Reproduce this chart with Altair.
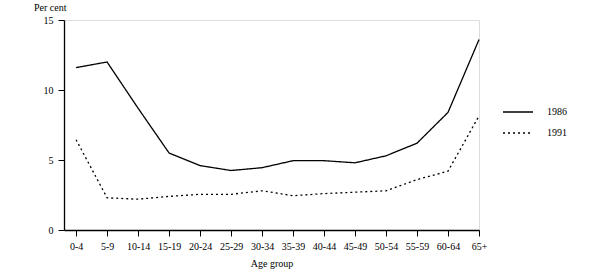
import altair as alt
import pandas as pd

ages = ["0-4", "5-9", "10-14", "15-19", "20-24", "25-29", "30-34", "35-39",
        "40-44", "45-49", "50-54", "55-59", "60-64", "65+"]
v1986 = [11.6, 12.0, 8.7, 5.5, 4.6, 4.25, 4.45, 4.95, 4.95, 4.8, 5.3, 6.2, 8.4, 13.6]
v1991 = [6.45, 2.3, 2.2, 2.4, 2.55, 2.55, 2.8, 2.45, 2.6, 2.7, 2.8, 3.6, 4.2, 8.15]
years = ["1986", "1991"]

rows = []
for i, a in enumerate(ages):
    rows.append({"idx": i, "age": a, "year": years[0], "pct": v1986[i]})
    rows.append({"idx": i, "age": a, "year": years[1], "pct": v1991[i]})
df = pd.DataFrame(rows)

label_expr = "[" + ",".join(f"'{a}'" for a in ages) + "][datum.value]"

FONT = "Liberation Serif"

chart = alt.Chart(df).mark_line(color="black", strokeWidth=1.3).encode(
    x=alt.X("idx:Q", scale=alt.Scale(domain=[-0.39, 13], nice=False, zero=False),
            axis=alt.Axis(values=list(range(14)), labelExpr=label_expr, title="Age group",
                          grid=False, tickSize=6, labelPadding=5, domainWidth=1.3,
                          tickColor="black", domainColor="black", labelFlush=False,
                          titleFontWeight="normal", labelFont=FONT, titleFont=FONT,
                          labelFontSize=10, titleFontSize=10, labelColor="black",
                          titleColor="black", titlePadding=7)),
    y=alt.Y("pct:Q", scale=alt.Scale(domain=[0, 15], nice=False),
            axis=alt.Axis(values=[0, 5, 10, 15], title="Per cent", titleAngle=0,
                          titleAlign="right", titleX=2, titleY=-10,
                          titleBaseline="alphabetic", grid=False, tickSize=6,
                          labelPadding=5, domainWidth=1.3, tickColor="black",
                          domainColor="black", titleFontWeight="normal",
                          labelFont=FONT, titleFont=FONT, labelFontSize=10,
                          titleFontSize=10, labelColor="black", titleColor="black")),
    strokeDash=alt.StrokeDash("year:N", scale=alt.Scale(domain=years, range=[[1, 0], [2, 3]]),
                              legend=alt.Legend(title=None, orient="none", legendX=438, legendY=76,
                                                symbolType="stroke", symbolSize=900,
                                                symbolStrokeColor="black", symbolStrokeWidth=1.3,
                                                labelFont=FONT, labelFontSize=10, labelOffset=13,
                                                labelColor="black", rowPadding=-5, padding=0)),
    detail="year:N",
).properties(
    width=415, height=210,
    padding={"left": 64, "top": 20, "right": 116, "bottom": 43},
    autosize=alt.AutoSizeParams(type="none"),
).configure_view(stroke=None).configure(background="white")

chart.save("out.html", embed_options={"renderer": "svg", "actions": False})
